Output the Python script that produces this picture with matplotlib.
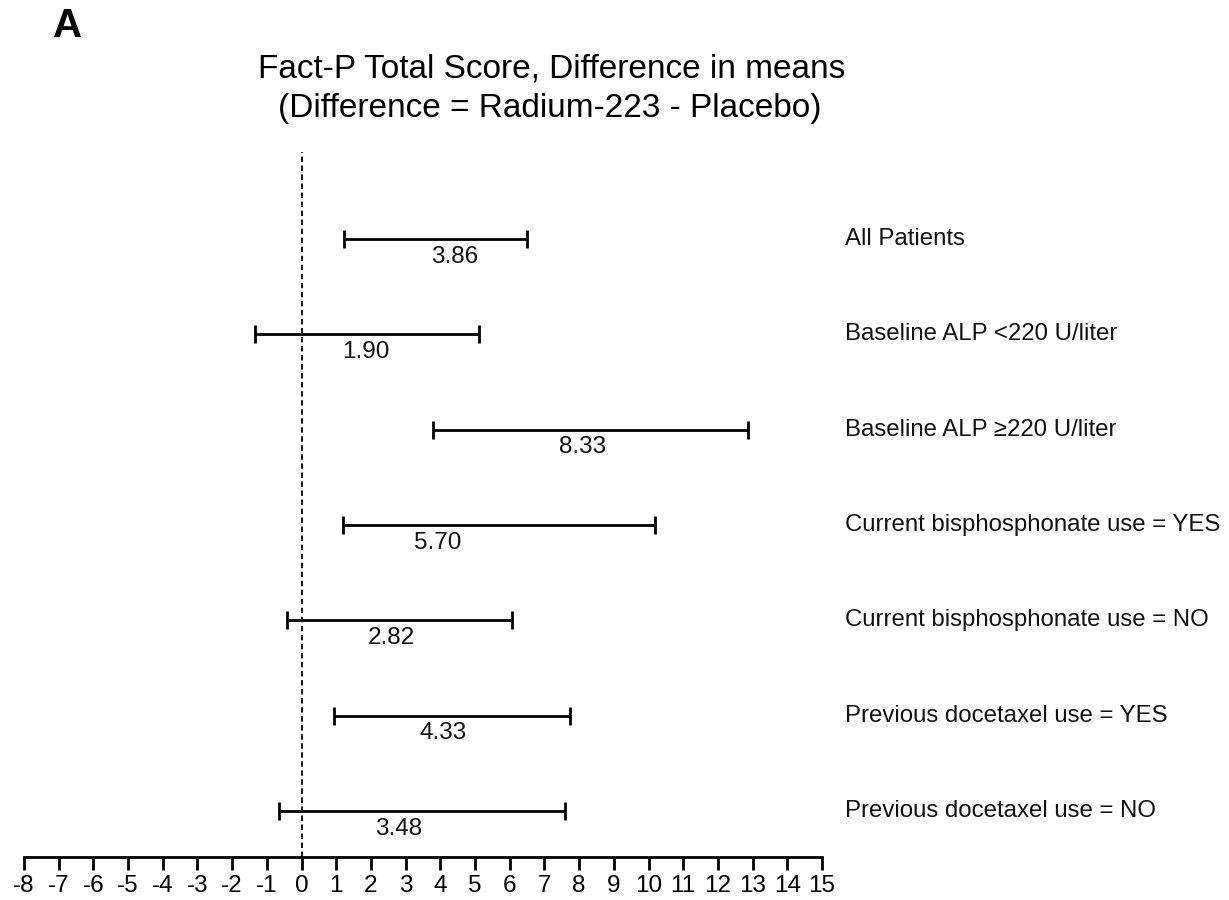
import matplotlib
matplotlib.use("Agg")
import matplotlib.pyplot as plt
from matplotlib.transforms import blended_transform_factory

plt.rcParams['font.family'] = ['Liberation Sans', 'DejaVu Sans']
plt.rcParams['axes.unicode_minus'] = False

# Subgroups, top to bottom
subgroups = [
    "All Patients",
    "Baseline ALP <220 U/liter",
    "Baseline ALP \u2265220 U/liter",
    "Current bisphosphonate use = YES",
    "Current bisphosphonate use = NO",
    "Previous docetaxel use = YES",
    "Previous docetaxel use = NO",
]
# Difference in means (Radium-223 - Placebo) with 95% CI
mean_diff = [3.86, 1.90, 8.33, 5.70, 2.82, 4.33, 3.48]
ci_low = [1.22, -1.34, 3.79, 1.20, -0.41, 0.94, -0.64]
ci_high = [6.50, 5.10, 12.88, 10.19, 6.06, 7.73, 7.59]

x_ticks = list(range(-8, 16))
x_tick_labels = [str(v) for v in x_ticks]

# where each value label sits along the x axis
label_x = [4.40, 1.84, 8.10, 3.92, 2.58, 4.09, 2.79]

W, H = 1229, 900
fig = plt.figure(figsize=(W / 100, H / 100), dpi=100)
ax = fig.add_axes([24 / W, 1 - 857 / H, 798 / W, 705 / H])

n = len(subgroups)
ys = [n - i for i in range(n)]

for y, m, lo, hi, lx in zip(ys, mean_diff, ci_low, ci_high, label_x):
    ax.errorbar([m], [y], xerr=[[m - lo], [hi - m]], fmt='none',
                ecolor='black', elinewidth=2.0, capsize=6.5, capthick=2.0)
    ax.text(lx, y - 0.185, f"{m:.2f}", ha='center', va='center',
            fontsize=17.5, color='#111111')

ax.axvline(0, color='black', lw=1.3, ls=(0, (3, 2)))

ax.set_xlim(-8, 15)
ax.set_ylim(0.517, 7.913)
ax.set_xticks(x_ticks)
ax.set_xticklabels(x_tick_labels, fontsize=17.5)
ax.set_yticks([])
for side in ('left', 'top', 'right'):
    ax.spines[side].set_visible(False)
ax.spines['bottom'].set_linewidth(2.0)
ax.tick_params(axis='x', direction='out', length=9, width=2.0, pad=4)

trans = blended_transform_factory(fig.transFigure, ax.transData)
for y, name in zip(ys, subgroups):
    fig.text(845 / W, y, name, transform=trans, ha='left', va='center',
             fontsize=17.3, color='#111111')

fig.text(552 / W, 1 - 69 / H, "Fact-P Total Score, Difference in means",
         ha='center', va='center', fontsize=24)
fig.text(550 / W, 1 - 109 / H, "(Difference = Radium-223 - Placebo)",
         ha='center', va='center', fontsize=24)
fig.text(53 / W, 1 - 26 / H, "A", ha='left', va='center',
         fontsize=29, fontweight='bold')

fig.savefig("out.png", dpi=100, facecolor='white')
